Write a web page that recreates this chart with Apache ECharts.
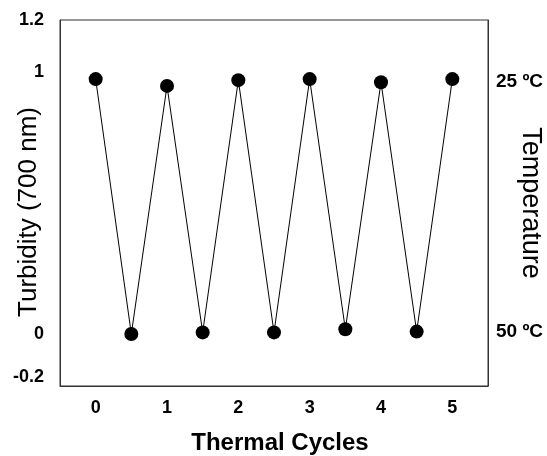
<!DOCTYPE html>
<html>
<head>
<meta charset="utf-8">
<script src="https://cdn.jsdelivr.net/npm/echarts@6/dist/echarts.min.js"></script>
<style>html,body{margin:0;padding:0;background:#fff;}#c{width:547px;height:456px;}</style>
</head>
<body>
<div id="c"></div>
<script>
var cycles = [0, 0.5, 1, 1.5, 2, 2.5, 3, 3.5, 4, 4.5, 5];
var turbidity = [0.974, -0.001, 0.948, 0.005, 0.970, 0.005, 0.974, 0.017, 0.962, 0.008, 0.974];
var xTicks = [0, 1, 2, 3, 4, 5];
var yTicks = [-0.2, 0, 1, 1.2];
var tempTicks = [25, 50];

var chart = echarts.init(document.getElementById('c'), null, {renderer: 'canvas'});
var font = '"Liberation Sans", Arial, Helvetica, sans-serif';
var axisCol = '#333';
chart.setOption({
  animation: false,
  backgroundColor: '#fff',
  grid: {left: 60, right: 59, top: 20, bottom: 70, containLabel: false, outerBoundsMode: 'none',
    show: true, borderColor: axisCol, borderWidth: 1},
  xAxis: {
    type: 'value', min: -0.5, max: 5.5,
    name: 'Thermal Cycles', nameLocation: 'middle', nameGap: 45, nameMoveOverlap: false,
    nameTextStyle: {fontFamily: font, fontSize: 24, fontWeight: 'bold', color: '#000', padding: [0, 0, 0, 12]},
    axisLine: {show: true, onZero: false, lineStyle: {color: axisCol}},
    axisTick: {show: false},
    splitLine: {show: false},
    axisLabel: {customValues: xTicks, margin: 13, fontFamily: font, fontSize: 18, fontWeight: 'bold', color: '#000'}
  },
  yAxis: [{
    type: 'value', min: -0.2, max: 1.2,
    name: 'Turbidity (700 nm)', nameLocation: 'middle', nameGap: 18, nameMoveOverlap: false,
    nameTextStyle: {fontFamily: font, fontSize: 26, color: '#000', padding: [0, 18, 0, 0]},
    axisLine: {show: true, onZero: false, lineStyle: {color: axisCol}},
    axisTick: {show: false},
    splitLine: {show: false},
    axisLabel: {customValues: yTicks, margin: 16, fontFamily: font, fontSize: 18, fontWeight: 'bold', color: '#000',
      verticalAlignMinLabel: 'bottom'}
  }, {
    type: 'value', position: 'right', inverse: true, min: 18.8, max: 55.4,
    name: 'Temperature', nameLocation: 'middle', nameGap: 29, nameRotate: -90, nameMoveOverlap: false,
    nameTextStyle: {fontFamily: font, fontSize: 27, color: '#000'},
    axisLine: {show: true, onZero: false, lineStyle: {color: axisCol}},
    axisTick: {show: false},
    splitLine: {show: false},
    axisLabel: {customValues: tempTicks, margin: 8, fontFamily: font, fontSize: 19, fontWeight: 'bold', color: '#000',
      formatter: function (v) { return v + ' ºC'; }}
  }],
  series: [{
    type: 'line',
    yAxisIndex: 0,
    data: cycles.map(function (c, i) { return [c, turbidity[i]]; }),
    symbol: 'circle', symbolSize: 14,
    itemStyle: {color: '#000'},
    lineStyle: {color: '#000', width: 1}
  }]
});
</script>
</body>
</html>
